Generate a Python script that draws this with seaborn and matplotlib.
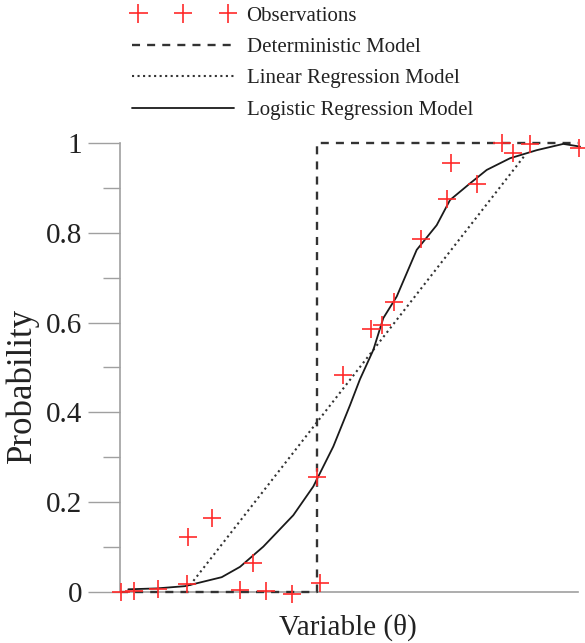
import matplotlib
matplotlib.use("Agg")
import matplotlib.pyplot as plt
from matplotlib.ticker import MultipleLocator, FixedLocator
import seaborn as sns
import pandas as pd

# Observed outcomes along the explanatory variable
obs_theta = [0.07, 1.43, 3.77, 6.67, 6.83, 9.17, 12.0, 13.33, 14.57, 17.17,
             19.73, 20.0, 22.33, 25.07, 26.17, 27.43, 30.07, 32.73, 33.07,
             35.67, 38.17, 39.27, 41.0, 45.93]
obs_prob = [0.0, 0.003, 0.007, 0.017, 0.123, 0.164, 0.005, 0.065, 0.002, -0.004,
            0.257, 0.021, 0.483, 0.585, 0.595, 0.645, 0.786, 0.875, 0.955,
            0.909, 1.0, 0.977, 0.998, 0.988]

# Deterministic (step) model
det_theta = [0.0, 19.73, 19.73, 45.8]
det_prob = [0.0, 0.0, 1.0, 1.0]

# Linear regression model
lin_theta = [7.0, 40.5]
lin_prob = [0.015, 0.973]

# Logistic regression model (fitted values)
log_theta = [0.83, 3.67, 6.5, 10.17, 12.0, 14.33, 17.33, 19.33, 21.33, 23.0,
             24.0, 25.33, 26.33, 27.67, 29.67, 31.67, 33.0, 35.0, 36.67, 39.0,
             41.67, 44.33, 46.0]
log_prob = [0.006, 0.008, 0.013, 0.033, 0.056, 0.101, 0.171, 0.235, 0.324, 0.416,
            0.474, 0.539, 0.61, 0.658, 0.762, 0.817, 0.873, 0.91, 0.94, 0.966,
            0.984, 0.998, 0.992]

y_ticks = [0, 0.2, 0.4, 0.6, 0.8, 1.0]
y_tick_labels = ["0", "0.2", "0.4", "0.6", "0.8", "1"]

sns.set_theme(style="white")
plt.rcParams["font.family"] = ["Liberation Serif", "DejaVu Serif"]

fig = plt.figure(figsize=(5.85, 6.43), dpi=100)
ax = fig.add_axes([120 / 585, 51 / 643, 458 / 585, 449 / 643])

obs = pd.DataFrame({"theta": obs_theta, "prob": obs_prob})
det = pd.DataFrame({"theta": det_theta, "prob": det_prob})
lin = pd.DataFrame({"theta": lin_theta, "prob": lin_prob})
logit = pd.DataFrame({"theta": log_theta, "prob": log_prob})

sns.lineplot(data=det, x="theta", y="prob", ax=ax, estimator=None, sort=False,
             color="#333333", linewidth=1.7, label="Deterministic Model")
ax.lines[-1].set_linestyle((0, (3.4, 3.0)))
sns.lineplot(data=lin, x="theta", y="prob", ax=ax, estimator=None, sort=False,
             color="#333333", linewidth=1.5, label="Linear Regression Model")
ax.lines[-1].set_linestyle(":")
sns.lineplot(data=logit, x="theta", y="prob", ax=ax, estimator=None, sort=False,
             color="#1a1a1a", linewidth=1.3, label="Logistic Regression Model")
sns.scatterplot(data=obs, x="theta", y="prob", ax=ax, marker="+", s=180,
                color="#ff2a2a", linewidth=1.2, label="Observations", zorder=5,
                clip_on=False)

# model curves sit above the axis spines
for ln in ax.lines:
    ln.set_clip_on(False)
    ln.set_zorder(3)

ax.set_xlim(0, 45.8)
ax.set_ylim(0, 1)
ax.set_xticks([])
ax.yaxis.set_major_locator(FixedLocator(y_ticks))
ax.set_yticklabels(y_tick_labels)
ax.yaxis.set_minor_locator(MultipleLocator(0.1))
ax.tick_params(axis="y", which="major", direction="out", length=23, width=1.0,
               color="#a0a0a0", labelsize=21, labelcolor="#222222", pad=4.3, left=True)
ax.tick_params(axis="y", which="minor", direction="out", length=12, width=1.0,
               color="#a0a0a0", left=True)

for side in ["top", "right"]:
    ax.spines[side].set_visible(False)
for side in ["left", "bottom"]:
    ax.spines[side].set_color("#a0a0a0")
    ax.spines[side].set_linewidth(1.2)

ax.set_xlabel("Variable (θ)", fontsize=21, color="#222222")
ax.xaxis.set_label_coords(0.497, -0.078)
ax.xaxis.label.set_va("center")
ax.set_ylabel("Probability", fontsize=25, color="#222222")
ax.yaxis.set_label_coords(-0.213, 0.459)
ax.yaxis.label.set_va("center")

handles, labels = ax.get_legend_handles_labels()
order = [labels.index(n) for n in ["Observations", "Deterministic Model",
                                   "Linear Regression Model", "Logistic Regression Model"]]
ax.get_legend().remove()
fig.legend([handles[i] for i in order], [labels[i] for i in order],
           loc="upper left", bbox_to_anchor=(132 / 585, 1 - 6 / 643),
           frameon=False, fontsize=15, scatterpoints=3, scatteryoffsets=[0.5],
           handlelength=4.9, handletextpad=0.6, labelspacing=0.57,
           borderpad=0, borderaxespad=0, labelcolor="#222222")

fig.savefig("out.png", dpi=100)
